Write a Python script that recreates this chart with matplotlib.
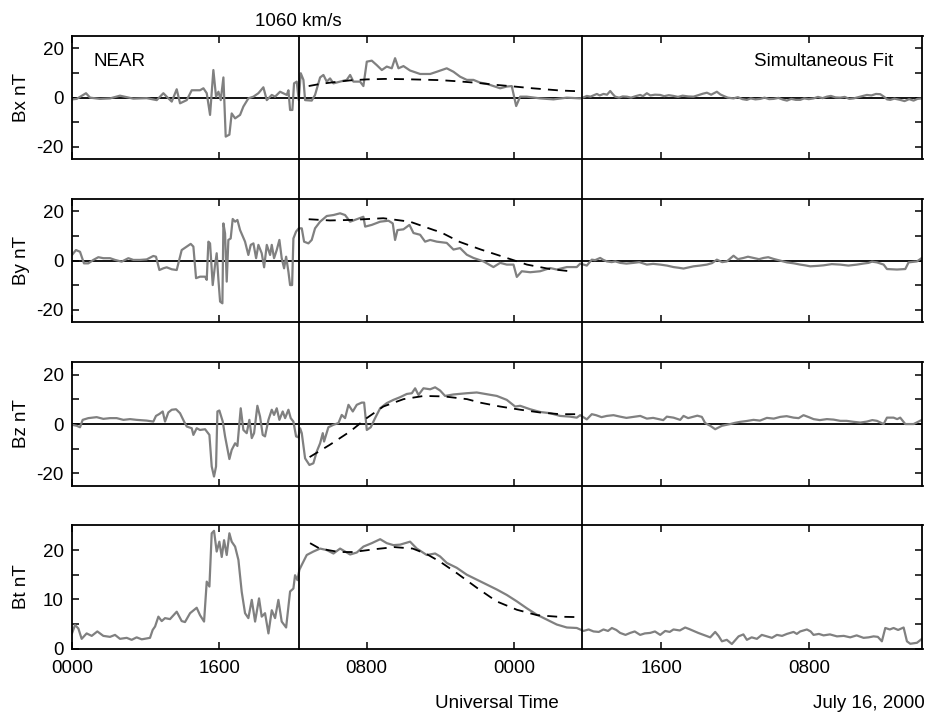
import matplotlib
matplotlib.use("Agg")
import matplotlib.pyplot as plt
from matplotlib.lines import Line2D
from matplotlib.transforms import blended_transform_factory
from matplotlib.ticker import FixedLocator

plt.rcParams['font.family'] = ['Liberation Sans', 'DejaVu Sans']
plt.rcParams['axes.unicode_minus'] = False

# ---------------- data (hours from start, nT) ----------------
bx_t = [0, 0.51, 1.52, 1.96, 3.04, 4.13, 5.21, 6.66, 8.11, 9.2, 9.92, 10.28, 10.83, 11.37, 11.73,
        12.46, 13.0, 13.9, 14.27, 14.63, 14.99, 15.35, 15.64, 15.9, 16.15, 16.44, 16.69, 17.09,
        17.34, 17.71, 18.25, 18.61, 19.15, 19.7, 20.24, 20.78, 21.15, 21.69, 22.05, 22.59, 23.32,
        23.5, 23.68, 23.93, 24.11, 24.4, 24.62, 24.84, 25.13, 25.31, 26.03, 26.39, 26.94, 27.3,
        27.66, 28.02, 28.39, 29.11, 29.83, 30.2, 30.56, 31.28, 31.64, 32.01, 32.55, 33.09, 33.64,
        34.18, 34.72, 35.08, 35.45, 35.99, 36.71, 37.8, 38.89, 39.61, 40.69, 41.42, 42.14, 42.87,
        43.59, 44.31, 45.04, 45.76, 46.49, 47.21, 47.75, 48.23, 48.66, 49.38, 50.83, 52.28, 53.73,
        55.18, 55.6, 55.9, 56.3, 56.99, 57.3, 57.71, 58.1, 58.44, 58.7, 58.98, 59.4, 59.8, 60.25,
        60.7, 61.2, 61.69, 62.0, 62.42, 62.8, 63.3, 63.87, 64.3, 64.8, 65.31, 65.8, 66.3, 66.9,
        67.49, 68.0, 68.5, 68.94, 69.4, 70.02, 70.4, 70.75, 71.2, 71.83, 72.3, 72.8, 73.28, 73.7,
        74.2, 74.73, 75.2, 75.7, 76.18, 76.7, 77.2, 77.63, 78.1, 78.6, 79.07, 79.5, 80.0, 80.52,
        81.0, 81.5, 81.97, 82.4, 82.9, 83.42, 83.9, 84.4, 84.87, 85.3, 85.8, 86.31, 86.8, 87.3,
        87.76, 88.2, 88.5, 88.85, 89.3, 89.93, 90.4, 90.9, 91.38, 91.8, 92.3]
bx_v = [-0.7, -0.5, 1.8, 0.0, -0.5, -0.3, 0.8, -0.4, -0.2, -1.0, 1.8, 0.4, -1.6, 3.4, -2.3,
        -1.0, 3.0, 3.0, 3.8, 1.8, -7.0, 11.2, 0.4, 2.4, -1.0, 8.2, -15.8, -15.0,
        -6.4, -8.4, -7.0, -3.6, -0.3, 0.4, 1.8, 4.2, -1.0, 1.1, 0.4, 2.4, 1.1,
        3.0, -5.0, -5.0, 5.8, 6.5, -1.0, 9.9, 7.2, -1.0, -1.2, 1.1, 8.2, 9.2,
        6.5, 7.8, 5.8, 6.5, 7.2, 9.2, 6.5, 6.5, 4.7, 14.6, 15.0, 13.2, 11.2,
        12.6, 11.9, 16.0, 11.9, 12.8, 11.0, 9.6, 9.6, 10.5, 11.9, 10.5, 8.5, 7.2,
        7.2, 6.1, 5.6, 4.7, 3.8, 4.5, 4.7, -3.4, 0.4, 0.4, -0.3, -0.7, 0.0,
        -0.3, 0.2, 0.7, 0.4, 1.5, 0.9, 1.5, 1.2, 2.7, 1.5, 0.4, 0.0, 0.5, 0.4,
        0.0, 0.6, 1.1, 0.6, 1.8, 0.9, 1.2, 1.1, 0.6, 1.0, 0.7, 0.3, 0.8, 0.5,
        0.4, 1.0, 1.6, 2.0, 1.2, 2.4, 1.3, 0.7, 0.0, -0.3, 0.2, -0.6, -0.9, -0.3,
        -0.7, -0.5, 0.0, -0.6, -0.5, -0.1, -0.8, -1.2, -0.5, -0.9, -0.9, -0.3, -0.6, -0.3,
        0.3, -0.2, 0.4, 0.7, 0.1, 0.0, 0.3, -0.5, -0.3, 0.1, 0.6, 1.1, 0.9, 1.5,
        1.4, 0.3, -0.7, -0.9, -0.4, -0.9, -1.4, -0.6, -1.2, -0.5, -0.3]

by_t = [0, 0.43, 0.87, 1.3, 1.77, 2.32, 2.86, 3.4, 4.13, 4.67, 5.39, 6.12, 6.66, 7.39, 8.11, 8.83,
        9.12, 9.49, 9.92, 10.28, 10.83, 11.37, 11.91, 12.46, 12.89, 13.18, 13.47, 13.9, 14.45,
        14.63, 14.81, 14.99, 15.28, 15.53, 15.71, 15.9, 16.08, 16.33, 16.44, 16.62, 16.8, 16.98,
        17.23, 17.45, 17.71, 17.96, 18.25, 18.79, 19.15, 19.41, 19.7, 19.99, 20.24, 20.6, 20.86,
        21.15, 21.51, 21.69, 21.94, 22.23, 22.52, 22.77, 23.03, 23.25, 23.5, 23.68, 23.9, 24.04,
        24.33, 24.62, 24.95, 25.2, 25.67, 26.03, 26.39, 26.94, 27.66, 28.39, 29.11, 29.65, 30.2,
        30.92, 31.64, 31.83, 32.55, 33.46, 34.36, 34.83, 35.08, 35.34, 35.99, 36.64, 37.08, 37.8,
        38.34, 38.89, 39.61, 40.69, 41.42, 42.14, 42.87, 43.59, 44.68, 45.76, 46.49, 47.21, 47.94,
        48.3, 48.84, 49.75, 50.83, 51.92, 52.64, 53.73, 54.81,
        55.18, 55.9, 56.44, 56.8, 57.35, 57.7, 58.07, 58.6, 59.0, 59.52, 60.2, 60.97, 61.6, 62.42,
        63.1, 63.87, 64.6, 65.31, 65.9, 66.4, 66.9, 67.49, 68.2, 68.94, 69.5, 70.02, 70.6, 71.11,
        71.83, 72.3, 72.92, 73.4, 74.0, 74.6, 75.09, 75.6, 76.18, 76.9, 77.63, 78.4, 79.07, 79.6,
        80.16, 81.0, 81.61, 82.5, 83.42, 84.3, 85.23, 85.9, 86.5, 86.86, 87.4, 88.13, 88.49,
        89.58, 90.48, 90.84, 91.75, 92.29]
by_v = [2.3, 4.3, 3.6, -1.1, -1.1, 0.3, 1.4, 1.0, 1.0, 0.3, -0.4, 1.0, 0.3, 0.3, 0.5, 1.9,
        1.6, -3.8, -3.1, -2.7, -3.5, -3.8, 4.3, 5.7, 6.8, 5.7, -7.1, -6.5, -6.5,
        -7.8, 7.7, 7.0, -9.9, -1.8, 3.0, -7.8, -16.6, -17.3, 15.1, 11.0, -8.5, 8.4,
        9.0, 16.9, 15.8, 16.5, 12.4, 7.7, 2.3, 6.4, 7.0, 1.0, 6.4, 3.0, -2.7,
        6.4, 2.3, 6.4, 1.0, 4.3, 8.4, 1.0, -3.1, 1.6, -4.5, -9.9, -9.9, 9.0,
        11.8, 13.1, 13.1, 7.7, 7.0, 8.4, 13.1, 15.8, 18.1, 18.5, 19.2, 18.5, 15.8,
        16.8, 17.8, 13.8, 14.5, 15.8, 16.2, 15.1, 8.4, 12.4, 12.7, 14.5, 11.2, 10.5,
        7.7, 8.4, 7.7, 7.2, 4.5, 5.1, 2.4, 1.1, -0.3, -2.6, -0.9, -1.6, -1.6,
        -6.6, -4.3, -4.7, -4.3, -3.0, -3.6, -2.6, -2.6,
        -1.2, -2.0, 0.4, 0.2, 1.1, 0.3, -0.3, -0.6, -0.3, -0.9, -1.2, -0.9, -0.6, -1.6,
        -1.3, -1.6, -2.0, -2.6, -2.9, -3.2, -2.8, -2.3, -2.0, -1.6, -1.0, 0.4, -0.6, -0.3,
        2.0, 0.6, 1.1, 1.6, 1.1, 0.6, 1.1, 1.4, 0.7, 0.0, -0.7, -1.1, -1.6, -1.9,
        -2.3, -2.1, -1.9, -1.4, -1.6, -2.0, -1.6, -1.2, -0.9, -0.4, -0.7, -1.6, -3.4,
        -3.6, -3.4, -0.7, -0.3, 1.1]

bz_t = [0, 0.51, 0.87, 1.16, 1.77, 2.68, 3.4, 4.13, 4.85, 5.58, 6.3, 7.02, 8.11, 8.83, 9.12, 9.49,
        9.85, 10.1, 10.46, 10.83, 11.3, 11.73, 12.17, 12.46, 13.0, 13.18, 13.54, 13.9, 14.45,
        14.92, 15.17, 15.42, 15.64, 15.79, 16.0, 16.37, 16.62, 17.09, 17.34, 17.71, 17.96, 18.32,
        18.61, 18.97, 19.26, 19.52, 19.77, 20.13, 20.42, 20.71, 20.96, 21.33, 21.69, 21.94, 22.23,
        22.52, 22.88, 23.14, 23.5, 23.75, 24.04, 24.33, 24.58, 24.77, 24.95, 25.31, 25.78, 26.21,
        26.58, 26.94, 27.23, 27.37, 27.84, 28.39, 28.93, 29.29, 29.65, 30.02, 30.49, 30.92, 31.46,
        31.72, 32.01, 32.44, 32.91, 33.46, 34.18, 34.9, 35.63, 36.35, 36.9, 37.26, 37.62, 38.16,
        38.89, 39.43, 39.97, 40.51, 41.42, 42.87, 43.95, 45.04, 46.13, 47.21, 48.12, 48.66, 49.75,
        50.83, 51.92, 53.0, 54.09, 54.81,
        55.18, 55.9, 56.44, 56.9, 57.5, 58.07, 58.8, 59.52, 60.2, 60.97, 61.7, 62.42, 63.1, 63.87,
        64.2, 64.59, 65.31, 66.04, 66.4, 66.9, 67.49, 67.9, 68.39, 68.75, 69.3, 69.84, 70.57,
        71.47, 72.0, 72.56, 73.2, 74.0, 74.7, 75.45, 76.2, 76.9, 77.6, 78.35, 78.9, 79.43, 80.0,
        80.52, 81.2, 81.97, 82.7, 83.42, 84.1, 84.87, 85.6, 86.31, 86.9, 87.4, 88.13, 88.49,
        89.21, 89.6, 89.93, 90.48, 91.38, 92.29]
bz_v = [-0.3, -0.7, -1.3, 1.7, 2.4, 2.8, 2.1, 2.4, 2.4, 1.7, 2.0, 1.7, 1.4, 1.0, 3.3, 4.1,
        5.1, 1.0, 4.7, 5.8, 6.0, 4.4, 1.0, -1.0, -1.7, -4.4, -1.7, -2.4, -2.1,
        -4.4, -17.2, -21.3, -17.2, 5.1, 5.5, 1.0, -5.0, -14.2, -10.5, -7.8, -8.9, 6.4,
        -2.4, -3.7, 1.7, -5.7, -3.7, 7.4, 3.0, -4.4, -5.0, 1.7, 5.8, 3.7, 6.4,
        1.7, 5.1, 2.4, 5.8, 2.4, 1.0, -5.0, -5.4, -1.7, -3.7, -13.9, -16.6, -15.9,
        -11.1, -7.8, -3.7, -7.1, -1.3, -0.3, 0.4, 3.7, 2.4, 7.8, 5.1, 7.8, 8.7,
        8.7, -2.4, -1.3, 2.4, 6.4, 8.5, 9.8, 10.9, 12.2, 12.5, 14.5, 11.8, 14.5,
        14.1, 14.9, 13.6, 11.4, 12.0, 12.5, 12.8, 12.1, 11.4, 9.8, 7.1, 7.4, 6.0,
        4.9, 4.4, 3.3, 3.0, 2.6,
        3.6, 1.9, 4.0, 3.6, 2.8, 3.3, 3.6, 3.0, 2.5, 2.9, 3.3, 2.2, 2.5, 1.9,
        1.6, 3.0, 2.6, 1.7, 3.3, 2.4, 3.0, 3.4, 2.9, 0.4, -0.7, -2.1, -0.7,
        0.0, 0.5, 0.9, 1.2, 1.7, 1.4, 2.5, 2.2, 2.9, 3.2, 2.6, 2.4, 3.6, 2.8,
        2.0, 1.6, 2.0, 1.8, 1.3, 1.3, 0.9, 0.6, 1.0, 1.6, 1.3, 0.0, 2.6,
        2.6, 2.0, 2.6, 0.0, 0.0, 1.7]

bt_t = [0, 0.33, 0.69, 1.05, 1.59, 2.14, 2.75, 3.4, 4.13, 4.67, 5.21, 5.94, 6.48, 7.02, 7.57, 8.47,
        8.76, 9.02, 9.38, 9.74, 10.1, 10.64, 11.37, 11.91, 12.27, 12.82, 13.54, 13.9, 14.34,
        14.63, 14.92, 15.17, 15.42, 15.71, 16.0, 16.26, 16.51, 16.8, 17.09, 17.34, 17.71, 18.07,
        18.43, 18.79, 19.15, 19.52, 19.88, 20.31, 20.6, 20.96, 21.33, 21.69, 22.05, 22.41, 22.77,
        23.25, 23.68, 24.04, 24.22, 24.48, 24.69, 24.95, 25.49, 26.21, 26.94, 27.66, 28.39, 29.11,
        29.65, 30.2, 30.92, 31.64, 32.55, 33.46, 34.18, 34.9, 35.63, 36.71, 37.44, 38.52, 39.43,
        39.97, 40.69, 41.78, 42.87, 43.95, 45.04, 46.13, 47.21, 48.3, 49.38, 50.47, 51.56, 52.64,
        53.73, 54.81,
        55.54, 56.1, 56.63, 57.2, 57.71, 58.2, 58.62, 59.1, 59.52, 60.1, 60.61, 61.1, 61.69, 62.2,
        62.78, 63.3, 63.87, 64.41, 64.9, 65.31, 66.0, 66.58, 67.0, 67.49, 68.0, 68.57, 69.3, 69.84,
        70.2, 70.57, 71.1, 71.65, 72.38, 72.9, 73.28, 73.8, 74.37, 74.9, 75.45, 76.0, 76.54, 77.1,
        77.63, 78.35, 78.7, 79.07, 79.8, 80.2, 80.52, 81.1, 81.61, 82.3, 83.06, 83.8, 84.5, 85.2,
        85.95, 86.5, 87.04, 87.5, 87.94, 88.31, 88.8, 89.21, 89.7, 90.3, 90.66, 91.02, 91.75, 92.29]
bt_v = [3.1, 4.8, 4.1, 2.0, 3.1, 2.6, 3.5, 2.6, 2.4, 2.8, 2.0, 2.2, 1.8, 2.3, 1.9, 2.2,
        3.8, 4.5, 6.5, 5.6, 6.2, 6.0, 7.5, 5.6, 5.4, 7.2, 8.3, 6.8, 5.5,
        13.6, 12.6, 23.4, 23.9, 19.7, 21.7, 18.6, 22.0, 19.0, 23.4, 21.7, 20.7, 18.0,
        11.5, 7.2, 6.2, 9.9, 5.5, 10.2, 6.5, 7.2, 3.1, 7.8, 6.2, 9.9, 5.5,
        4.3, 11.6, 12.2, 14.9, 13.9, 16.0, 17.0, 19.0, 19.7, 20.3, 20.0, 19.3, 20.3,
        19.7, 19.1, 19.5, 20.7, 21.4, 22.2, 21.4, 21.0, 21.1, 21.7, 20.3, 19.0, 19.3,
        18.7, 17.4, 16.4, 15.0, 14.0, 13.0, 12.0, 10.9, 9.6, 8.2, 6.9, 5.9, 4.9,
        4.3, 4.2,
        3.6, 3.9, 3.5, 3.4, 3.9, 3.6, 4.2, 3.8, 3.2, 2.8, 3.2, 3.5, 2.8, 3.1,
        3.2, 3.5, 2.8, 3.6, 3.4, 3.9, 3.7, 4.3, 4.0, 3.6, 3.2, 2.8, 2.3, 3.4,
        2.6, 1.5, 1.8, 0.95, 2.5, 2.9, 1.8, 2.3, 2.0, 2.8, 2.5, 2.2, 2.8, 2.6,
        3.0, 3.4, 3.0, 3.5, 3.9, 3.5, 2.8, 3.0, 2.7, 2.9, 2.5, 2.6, 2.3, 2.7,
        2.2, 2.3, 2.5, 2.4, 1.5, 4.2, 3.9, 4.2, 3.8, 4.3, 1.5, 1.0, 1.2, 2.0]

# simultaneous fit curves
bxfit_t = [25.7, 27.0, 28.5, 30.2, 32.0, 34.0, 36.0, 38.0, 40.0, 42.0, 44.0, 46.0, 47.5, 50.0, 53.0, 54.9]
bxfit_v = [4.7, 5.6, 6.3, 7.0, 7.4, 7.6, 7.5, 7.3, 7.1, 6.6, 6.0, 5.2, 4.7, 3.8, 2.9, 2.6]
byfit_t = [25.7, 28.0, 30.2, 33.8, 36.7, 39.3, 40.0, 42.1, 44.4, 47.2, 49.4, 51.9, 54.1]
byfit_v = [16.8, 16.3, 16.5, 17.2, 15.8, 12.4, 11.6, 7.6, 4.5, 1.1, -1.6, -3.4, -4.3]
bzfit_t = [25.8, 28.0, 30.2, 32.0, 33.8, 36.0, 38.2, 40.4, 42.9, 44.3, 46.5, 48.7, 50.8, 53.0, 54.8]
bzfit_v = [-13.4, -8.4, -3.0, 2.4, 7.1, 10.1, 11.4, 11.2, 10.1, 8.7, 7.1, 5.8, 4.7, 4.0, 4.0]
btfit_t = [25.85, 26.9, 29.0, 30.5, 33.0, 35.0, 37.0, 38.5, 40.0, 41.8, 44.0, 46.1, 48.3, 50.5, 52.6, 55.0]
btfit_v = [21.4, 20.3, 19.6, 19.6, 20.2, 20.6, 20.3, 19.2, 17.6, 15.3, 12.3, 9.6, 7.9, 6.8, 6.5, 6.4]

xticks = [0, 16, 32, 48, 64, 80]
xticklabels = ['0000', '1600', '0800', '0000', '1600', '0800']
boundaries = [24.6, 55.4]
xmax = 92.35

ylabels = ['Bx nT', 'By nT', 'Bz nT', 'Bt nT']

# ---------------- figure ----------------
W, H = 928, 717
fig = plt.figure(figsize=(W / 100, H / 100), dpi=100)

left = 72 / W
width = 850.5 / W
ph = 123.3 / H
bottoms_px = [159.3, 322.3, 485.7, 648.7]

series = [(bx_t, bx_v, bxfit_t, bxfit_v), (by_t, by_v, byfit_t, byfit_v),
          (bz_t, bz_v, bzfit_t, bzfit_v), (bt_t, bt_v, btfit_t, btfit_v)]

axes = []
FS = 13.5
for i, (t, v, ft, fv) in enumerate(series):
    ax = fig.add_axes([left, 1 - bottoms_px[i] / H, width, ph])
    axes.append(ax)
    ax.plot(t, v, color='#808080', lw=1.6, zorder=2)
    ax.plot(ft, fv, color='black', lw=1.3, ls=(0, (5.5, 4)), zorder=3)
    ax.set_xlim(0, xmax)
    if i < 3:
        ax.set_ylim(-25, 25)
        ax.axhline(0, color='black', lw=1.3, zorder=1)
        ax.yaxis.set_major_locator(FixedLocator([-20, 0, 20]))
        ax.yaxis.set_minor_locator(FixedLocator([-10, 10]))
    else:
        ax.set_ylim(0, 25)
        ax.yaxis.set_major_locator(FixedLocator([0, 10, 20]))
        ax.yaxis.set_minor_locator(FixedLocator([5, 15]))
    ax.set_xticks(xticks)
    if i == 3:
        ax.set_xticklabels(xticklabels)
    else:
        ax.set_xticklabels([])
    ax.tick_params(axis='both', which='both', direction='in', top=True, right=True,
                   length=5, width=1.1, labelsize=FS, pad=6)
    ax.tick_params(axis='x', pad=8)
    for s in ax.spines.values():
        s.set_linewidth(1.3)
    ax.set_ylabel(ylabels[i], fontsize=FS)
    ax.yaxis.set_label_coords(-0.049, 0.5)

# vertical boundary lines across all panels
top_y = 1 - 36 / H
bot_y = 1 - 648.7 / H
trans = blended_transform_factory(axes[0].transData, fig.transFigure)
for b in boundaries:
    fig.add_artist(Line2D([b, b], [bot_y, top_y], transform=trans, color='black', lw=1.3, zorder=5))

fig.text(boundaries[0], 1 - 21 / H, '1060 km/s', transform=trans, ha='center', va='center', fontsize=FS)
axes[0].text(94 / W, 1 - 61 / H, 'NEAR', transform=fig.transFigure, ha='left', va='center', fontsize=FS)
axes[0].text(893 / W, 1 - 61 / H, 'Simultaneous Fit', transform=fig.transFigure, ha='right',
             va='center', fontsize=FS)
fig.text(497 / W, 1 - 703 / H, 'Universal Time', ha='center', va='center', fontsize=FS)
fig.text(925 / W, 1 - 703 / H, 'July 16, 2000', ha='right', va='center', fontsize=FS)

fig.savefig('out.png', dpi=100)
